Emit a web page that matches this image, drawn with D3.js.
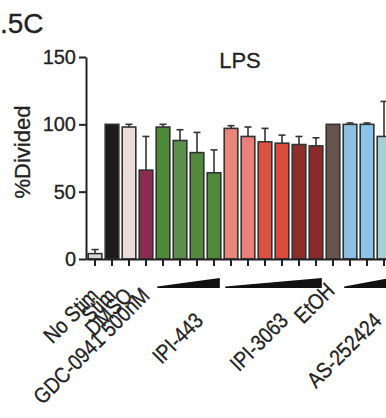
<!DOCTYPE html>
<html>
<head>
<meta charset="utf-8">
<script src="https://cdn.jsdelivr.net/npm/d3@7"></script>
<style>
  body { margin: 0; background: #fff; }
  svg { display: block; }
  text { font-family: "Liberation Sans", Arial, sans-serif; fill: #222; stroke: #222; stroke-width: 0.3px; }
</style>
</head>
<body>
<div id="chart"></div>
<script>
// Data
const barIds = ["nostim", "stim", "dmso", "gdc",
  "ipi443a", "ipi443b", "ipi443c", "ipi443d",
  "ipi3063a", "ipi3063b", "ipi3063c", "ipi3063d", "ipi3063e", "ipi3063f",
  "etoh", "as1", "as2", "as3"];
const barValues = [4, 100, 98, 66, 98, 88, 79, 64, 97, 91, 87, 86, 85, 84, 100, 100, 100, 91];
const barErrors = [3, 0, 2, 25, 2, 8, 15, 17, 2, 7, 10, 6, 6, 6, 0, 1, 1, 26];
const barColors = ["#d9d9d9", "#1c1c1c", "#eadcd8", "#8c2b4f",
  "#4c8a3a", "#5b8f4b", "#53893f", "#4f8a3a",
  "#e8867c", "#ea7f7b", "#e0503f", "#dc4a3a", "#8e2e2a", "#8a2a2b",
  "#66554f", "#8dc0e3", "#8cc3ea", "#a6cfd6"];
const singleLabels = ["No Stim", "Stim", "DMSO", "GDC-0941 500nM"];
const singleIdx = [0, 1, 2, 3];
const etohLabel = "EtOH";
const etohIdx = 14;
const groupNames = ["IPI-443", "IPI-3063", "AS-252424"];
const groupFirst = [4, 8, 15];
const groupLast = [7, 13, 17];
const yTicks = [0, 50, 100, 150];

// Layout
const width = 386, height = 418;
const axisX = 86, axisTop = 57, axisBottom = 259;
const step = 17;

const svg = d3.select("#chart").append("svg")
  .attr("width", width)
  .attr("height", height);

const x = d3.scaleBand()
  .domain(barIds)
  .range([axisX, axisX + step * (barIds.length - 0.2 + 0.26)])
  .paddingInner(0.2)
  .paddingOuter(0.13);

const y = d3.scaleLinear()
  .domain([0, 150])
  .range([axisBottom, axisTop]);

// panel letter + title
svg.append("text")
  .attr("x", 0).attr("y", 33)
  .style("font-size", "28px")
  .text(".5C");

svg.append("text")
  .attr("x", 240).attr("y", 68)
  .attr("text-anchor", "middle")
  .style("font-size", "22px")
  .text("LPS");

// bars
svg.append("g").selectAll("rect")
  .data(barIds)
  .enter()
  .append("rect")
  .attr("x", d => x(d))
  .attr("width", x.bandwidth())
  .attr("y", (d, i) => y(barValues[i]))
  .attr("height", (d, i) => y(0) - y(barValues[i]))
  .style("fill", (d, i) => barColors[i])
  .style("stroke", "#333")
  .style("stroke-width", 1.6);

// error bars (upper only)
const errG = svg.append("g")
  .style("stroke", "#333")
  .style("stroke-width", 1.6);
barIds.forEach((d, i) => {
  if (!barErrors[i]) return;
  const cx = x(d) + x.bandwidth() / 2;
  errG.append("line")
    .attr("x1", cx).attr("x2", cx)
    .attr("y1", y(barValues[i])).attr("y2", y(barValues[i] + barErrors[i]));
  errG.append("line")
    .attr("x1", cx - 3.5).attr("x2", cx + 3.5)
    .attr("y1", y(barValues[i] + barErrors[i])).attr("y2", y(barValues[i] + barErrors[i]));
});

// axes
const yAxis = svg.append("g")
  .attr("transform", "translate(" + axisX + ",0)")
  .call(d3.axisLeft(y).tickValues(yTicks).tickSize(7).tickSizeOuter(0).tickPadding(3));
yAxis.selectAll("text").style("font-size", "20px").style("fill", "#222");

const xAxis = svg.append("g")
  .attr("transform", "translate(0," + axisBottom + ")")
  .call(d3.axisBottom(x).tickSize(7).tickSizeOuter(0).tickFormat(""));

svg.selectAll(".domain, .tick line")
  .style("stroke", "#222")
  .style("stroke-width", 2);

svg.append("text")
  .attr("transform", "translate(30,152) rotate(-90)")
  .attr("text-anchor", "middle")
  .style("font-size", "22px")
  .text("%Divided");

// dose wedges
groupNames.forEach((g, k) => {
  const x1 = x(barIds[groupFirst[k]]) + 1;
  const x2 = x(barIds[groupLast[k]]) + x.bandwidth() - 1;
  svg.append("polygon")
    .attr("points", [[x1, 286.5], [x2, 278], [x2, 288], [x1, 288]].join(" "))
    .style("fill", "#111");
});

// labels (slightly condensed, like the original figure font)
const labelFont = "22px";
const squeeze = " rotate(-45) scale(0.86,1)";
singleLabels.forEach((t, k) => {
  const cx = x(barIds[singleIdx[k]]) + x.bandwidth() / 2;
  svg.append("text")
    .attr("transform", "translate(" + (cx + 5) + ",297)" + squeeze)
    .attr("text-anchor", "end")
    .style("font-size", labelFont)
    .text(t);
});

svg.append("text")
  .attr("transform", "translate(" + (x(barIds[etohIdx]) + x.bandwidth() / 2 + 3) + ",292)" + squeeze)
  .attr("text-anchor", "end")
  .style("font-size", labelFont)
  .text(etohLabel);

groupNames.forEach((g, k) => {
  const cx = (x(barIds[groupFirst[k]]) + x(barIds[groupLast[k]]) + x.bandwidth()) / 2;
  svg.append("text")
    .attr("transform", "translate(" + (cx + 16) + ",322)" + squeeze)
    .attr("text-anchor", "end")
    .style("font-size", labelFont)
    .text(g);
});
</script>
</body>
</html>
